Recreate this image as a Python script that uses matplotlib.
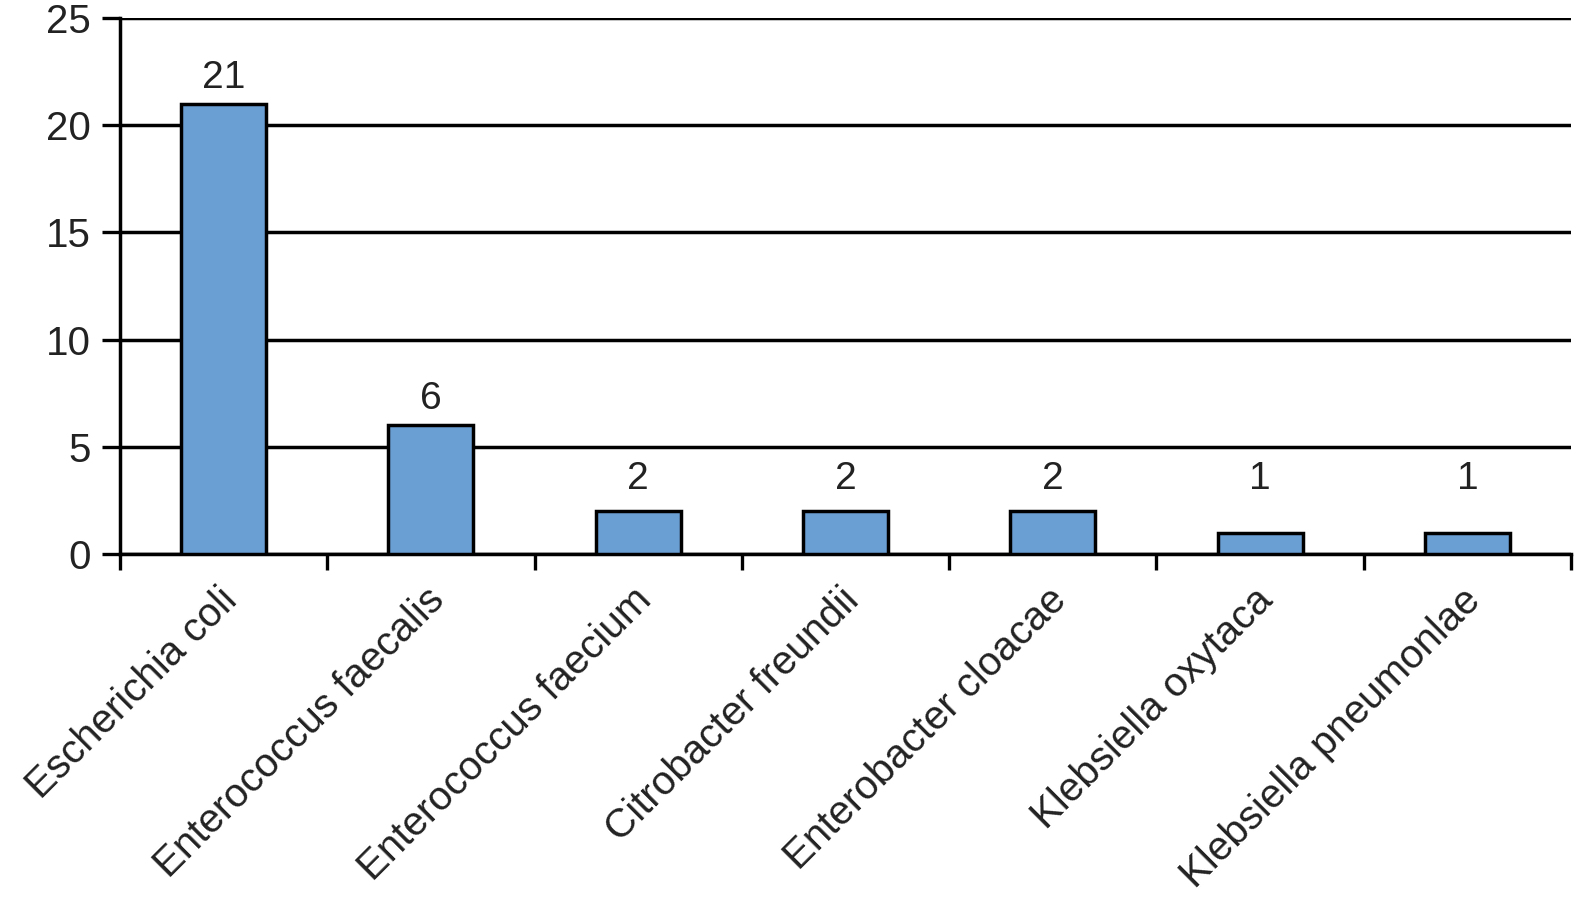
import numpy as np
import matplotlib.pyplot as plt

especies = ['Escherichia coli', 'Enterococcus faecalis', 'Enterococcus faecium',
            'Citrobacter freundii', 'Enterobacter cloacae', 'Klebsiella oxytaca',
            'Klebsiella pneumonlae']
conteos = [21, 6, 2, 2, 2, 1, 1]
yticks = [0, 5, 10, 15, 20, 25]

plt.rcParams['font.family'] = ['Liberation Sans', 'DejaVu Sans']

fig = plt.figure(figsize=(15.75, 9.09), dpi=100)
ax = fig.add_axes([120/1575, 355/909, 1451/1575, 536/909])

x = np.arange(len(especies))
ax.bar(x, conteos, width=0.41, color='#6a9fd4', edgecolor='black',
       linewidth=2.5, zorder=3)

# etiquetas de valor
for xi, v in zip(x, conteos):
    ax.text(xi, max(v, 2.3) + 0.75, str(v), ha='center', va='baseline',
            fontsize=28, color='#222222')

ax.set_xlim(-0.5, len(especies) - 0.5)
ax.set_ylim(0, 25)
ax.set_yticks(yticks)
ax.set_yticklabels([str(t) for t in yticks], fontsize=29, color='#222222')
ax.yaxis.grid(True, color='black', linewidth=2.5)
ax.set_axisbelow(True)

# ticks mayores en los limites de categoria, etiquetas cerca de los centros
ax.set_xticks(np.arange(-0.5, len(especies)))
ax.set_xticklabels([])
ax.set_xticks(x + 0.035, minor=True)
ax.set_xticklabels(especies, minor=True, rotation=45, ha='right', va='center',
                   rotation_mode='anchor', fontsize=29, color='#222222')

ax.tick_params(axis='x', which='major', direction='out', length=11.5, width=2.4)
ax.tick_params(axis='x', which='minor', length=0, pad=29)
ax.tick_params(axis='y', direction='out', length=13, width=2.4, pad=8)

for s in ['top', 'right']:
    ax.spines[s].set_visible(False)
for s in ['left', 'bottom']:
    ax.spines[s].set_linewidth(2.5)

fig.savefig('out.png', dpi=100)
